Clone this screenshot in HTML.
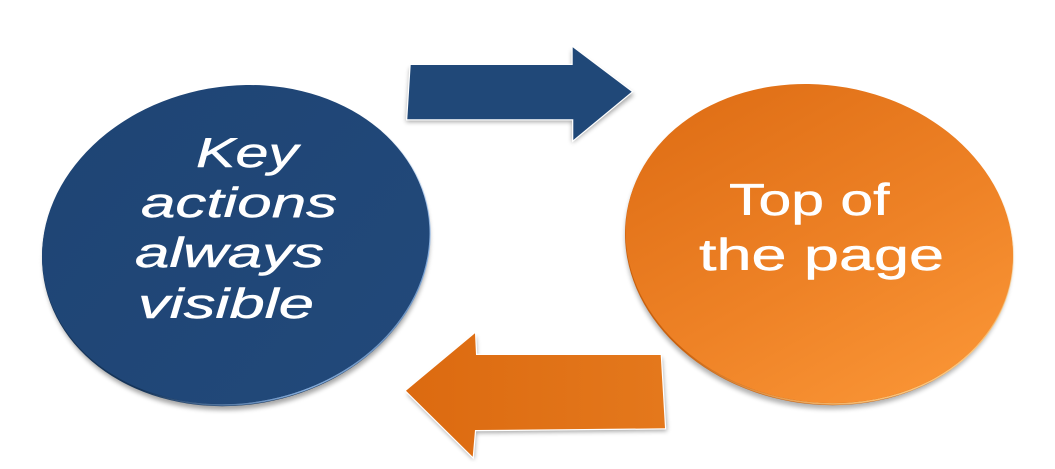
<!DOCTYPE html>
<html>
<head>
<meta charset="utf-8">
<style>
  html, body { margin: 0; padding: 0; background: #ffffff; }
  svg { display: block; }
  .lt { font-family: "Liberation Sans", Arial, sans-serif; font-style: italic; fill: #ffffff; font-size: 54px; stroke: #ffffff; stroke-width: 0.6px; stroke-linejoin: round; }
  .rt { font-family: "Liberation Sans", Arial, sans-serif; fill: #ffffff; font-size: 56px; stroke: #ffffff; stroke-width: 0.6px; stroke-linejoin: round; }
</style>
</head>
<body>
<svg width="1055" height="469" viewBox="0 0 1055 469" xmlns="http://www.w3.org/2000/svg">
  <defs>
    <filter id="sh" x="-20%" y="-20%" width="140%" height="140%">
      <feGaussianBlur stdDeviation="2.5"/>
    </filter>
    <linearGradient id="gBlue" x1="0" y1="0" x2="1" y2="1">
      <stop offset="0" stop-color="#1e4474"/>
      <stop offset="1" stop-color="#22497a"/>
    </linearGradient>
    <linearGradient id="gOr" x1="0" y1="0" x2="1" y2="1">
      <stop offset="0" stop-color="#dc6a12"/>
      <stop offset="0.55" stop-color="#ee8226"/>
      <stop offset="1" stop-color="#fd9a3a"/>
    </linearGradient>
    <linearGradient id="gOrArrow" x1="0" y1="0" x2="1" y2="0">
      <stop offset="0" stop-color="#dc6a10"/>
      <stop offset="1" stop-color="#e4781c"/>
    </linearGradient>
    <linearGradient id="gBlueHi" x1="0" y1="0" x2="1" y2="1">
      <stop offset="0.55" stop-color="#8fb8ea" stop-opacity="0"/>
      <stop offset="0.8" stop-color="#8fb8ea" stop-opacity="0.9"/>
      <stop offset="1" stop-color="#8fb8ea" stop-opacity="0.3"/>
    </linearGradient>
    <linearGradient id="gOrHi" x1="0" y1="0" x2="1" y2="1">
      <stop offset="0.55" stop-color="#ffd08a" stop-opacity="0"/>
      <stop offset="0.85" stop-color="#ffd08a" stop-opacity="0.9"/>
      <stop offset="1" stop-color="#ffd08a" stop-opacity="0.3"/>
    </linearGradient>
  </defs>

  <!-- Blue ellipse -->
  <g transform="rotate(-10 236 246)">
    <ellipse cx="236" cy="250" rx="194" ry="159" fill="#000" opacity="0.35" filter="url(#sh)"/>
    <ellipse cx="236" cy="246" rx="195" ry="159" fill="#153459"/>
    <ellipse cx="236" cy="245.2" rx="195" ry="158.5" fill="none" stroke="url(#gBlueHi)" stroke-width="1.6"/>
    <ellipse cx="236" cy="244.5" rx="194.7" ry="158.3" fill="url(#gBlue)"/>
  </g>

  <!-- Orange ellipse -->
  <g transform="rotate(10 819 245)">
    <ellipse cx="819" cy="249" rx="194" ry="159" fill="#000" opacity="0.3" filter="url(#sh)"/>
    <ellipse cx="819" cy="245" rx="195" ry="159" fill="#c9600c"/>
    <ellipse cx="819" cy="244.2" rx="195" ry="158.5" fill="none" stroke="url(#gOrHi)" stroke-width="1.6"/>
    <ellipse cx="819" cy="243.5" rx="194.7" ry="158.3" fill="url(#gOr)"/>
  </g>

  <!-- Blue arrow -->
  <polygon points="410,68 572,68 572,50 634,95 572,143 572,122 406,122" fill="#000" opacity="0.35" filter="url(#sh)"/>
  <polygon points="410.7,65 572.7,65 572.7,47.3 631.7,91.7 573.3,140 573.3,119.3 407.3,119.3" fill="#ffffff" stroke="#ffffff" stroke-width="2.5" stroke-linejoin="miter"/>
  <polygon points="410.7,65 572.7,65 572.7,47.3 631.7,91.7 573.3,140 573.3,119.3 407.3,119.3" fill="#204878"/>

  <!-- Orange arrow -->
  <polygon points="407,394 476,336 477,358 662,358 667,431 476,433 474,460" fill="#000" opacity="0.35" filter="url(#sh)"/>
  <polygon points="406,390.7 475,333.3 476,355 660.7,355 665,428.3 475,430 472.7,456.7" fill="#ffffff" stroke="#ffffff" stroke-width="2.5"/>
  <polygon points="406,390.7 475,333.3 476,355 660.7,355 665,428.3 475,430 472.7,456.7" fill="url(#gOrArrow)"/>

  <!-- Left text -->
  <text class="lt" x="0" y="0" transform="translate(196 167) scale(1.097 0.78)">Key</text>
  <text class="lt" x="0" y="0" transform="translate(141 217) scale(1.146 0.78)">actions</text>
  <text class="lt" x="0" y="0" transform="translate(135 267) scale(1.145 0.78)">always</text>
  <text class="lt" x="0" y="0" transform="translate(138 318) scale(1.173 0.78)">visible</text>

  <!-- Right text -->
  <text class="rt" x="0" y="0" transform="translate(729 215) scale(1.052 0.8)">Top of</text>
  <text class="rt" x="0" y="0" transform="translate(699 270) scale(1.124 0.8)">the page</text>
</svg>
</body>
</html>
